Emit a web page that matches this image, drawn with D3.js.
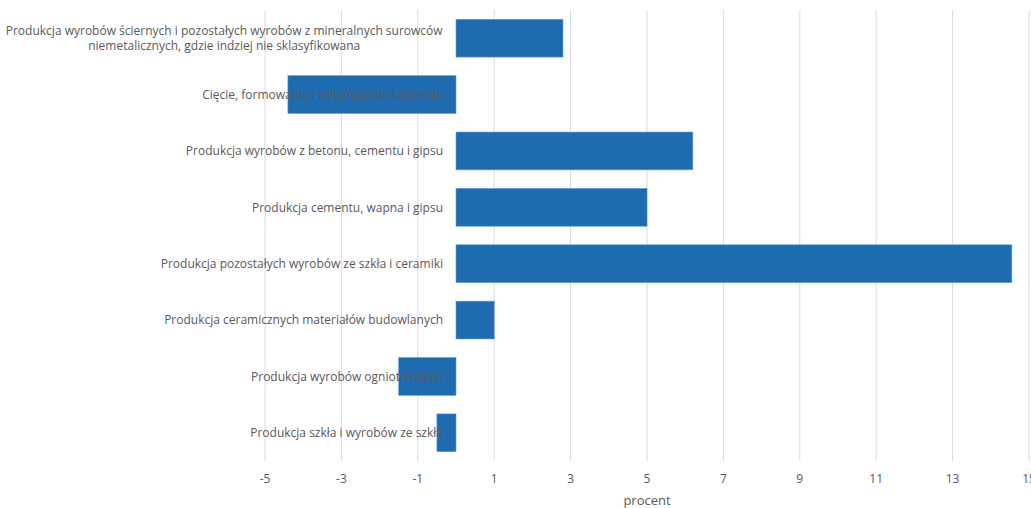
<!DOCTYPE html>
<html>
<head>
<meta charset="utf-8">
<script src="https://cdn.jsdelivr.net/npm/d3@7"></script>
<style>
  body { margin: 0; background: #fff; }
  text { font-family: "Open Sans", "Noto Sans", sans-serif; fill: #595959; }
</style>
</head>
<body>
<svg id="chart" width="1031" height="508"></svg>
<script>
// categories top to bottom, each a list of wrapped lines
var categories = [
  ["Produkcja wyrobów ściernych i pozostałych wyrobów z mineralnych surowców",
   "niemetalicznych, gdzie indziej nie sklasyfikowana"],
  ["Cięcie, formowanie i wykańczanie kamienia"],
  ["Produkcja wyrobów z betonu, cementu i gipsu"],
  ["Produkcja cementu, wapna i gipsu"],
  ["Produkcja pozostałych wyrobów ze szkła i ceramiki"],
  ["Produkcja ceramicznych materiałów budowlanych"],
  ["Produkcja wyrobów ogniotrwałych"],
  ["Produkcja szkła i wyrobów ze szkła"]
];
var values = [2.8, -4.4, 6.2, 5.0, 14.55, 1.0, -1.5, -0.5];
var tickValues = [-5, -3, -1, 1, 3, 5, 7, 9, 11, 13, 15];
var axisTitle = "procent";

var svg = d3.select("#chart");
var margin = { left: 265, right: 2, top: 10, bottom: 47 };
var width = +svg.attr("width"), height = +svg.attr("height");

var x = d3.scaleLinear().domain([-5, 15]).range([margin.left, width - margin.right]);
var y = d3.scaleBand()
  .domain(d3.range(categories.length))
  .range([margin.top, height - margin.bottom])
  .paddingInner(0.33)
  .paddingOuter(0.165);

// vertical gridlines
svg.append("g").selectAll("line")
  .data(tickValues)
  .enter().append("line")
  .attr("x1", function(d) { return x(d); })
  .attr("x2", function(d) { return x(d); })
  .attr("y1", margin.top)
  .attr("y2", height - margin.bottom)
  .attr("stroke", "#d9d9d9")
  .attr("stroke-width", 1);

// bars
svg.append("g").selectAll("rect")
  .data(values)
  .enter().append("rect")
  .attr("x", function(d) { return x(Math.min(0, d)); })
  .attr("width", function(d) { return Math.abs(x(d) - x(0)); })
  .attr("y", function(d, i) { return y(i); })
  .attr("height", y.bandwidth())
  .attr("fill", "#1f6bb0")
  .attr("stroke", "#5b9bd5")
  .attr("stroke-width", 0.6);

// category labels (drawn over the bars, like the original)
var labels = svg.append("g").selectAll("text")
  .data(categories)
  .enter().append("text")
  .attr("text-anchor", "middle")
  .attr("font-size", "12px")
  .each(function(lines, i) {
    var t = d3.select(this);
    var cy = y(i) + y.bandwidth() / 2;
    var lh = 15;
    lines.forEach(function(line, k) {
      t.append("tspan")
        .attr("x", 0)
        .attr("y", cy + (k - (lines.length - 1) / 2) * lh)
        .attr("dy", "0.35em")
        .text(line);
    });
  });

// right-align each block at x=443, centring the lines within the block
labels.each(function() {
  var t = d3.select(this);
  var w = this.getBBox().width;
  t.selectAll("tspan").attr("x", 443 - w / 2);
});

// x tick labels
svg.append("g").selectAll("text")
  .data(tickValues)
  .enter().append("text")
  .attr("x", function(d) { return x(d); })
  .attr("y", 483)
  .attr("text-anchor", "middle")
  .attr("font-size", "12px")
  .text(function(d) { return d; });

// axis title
svg.append("text")
  .attr("x", (x.range()[0] + x.range()[1]) / 2)
  .attr("y", 505)
  .attr("text-anchor", "middle")
  .attr("font-size", "13px")
  .text(axisTitle);
</script>
</body>
</html>
